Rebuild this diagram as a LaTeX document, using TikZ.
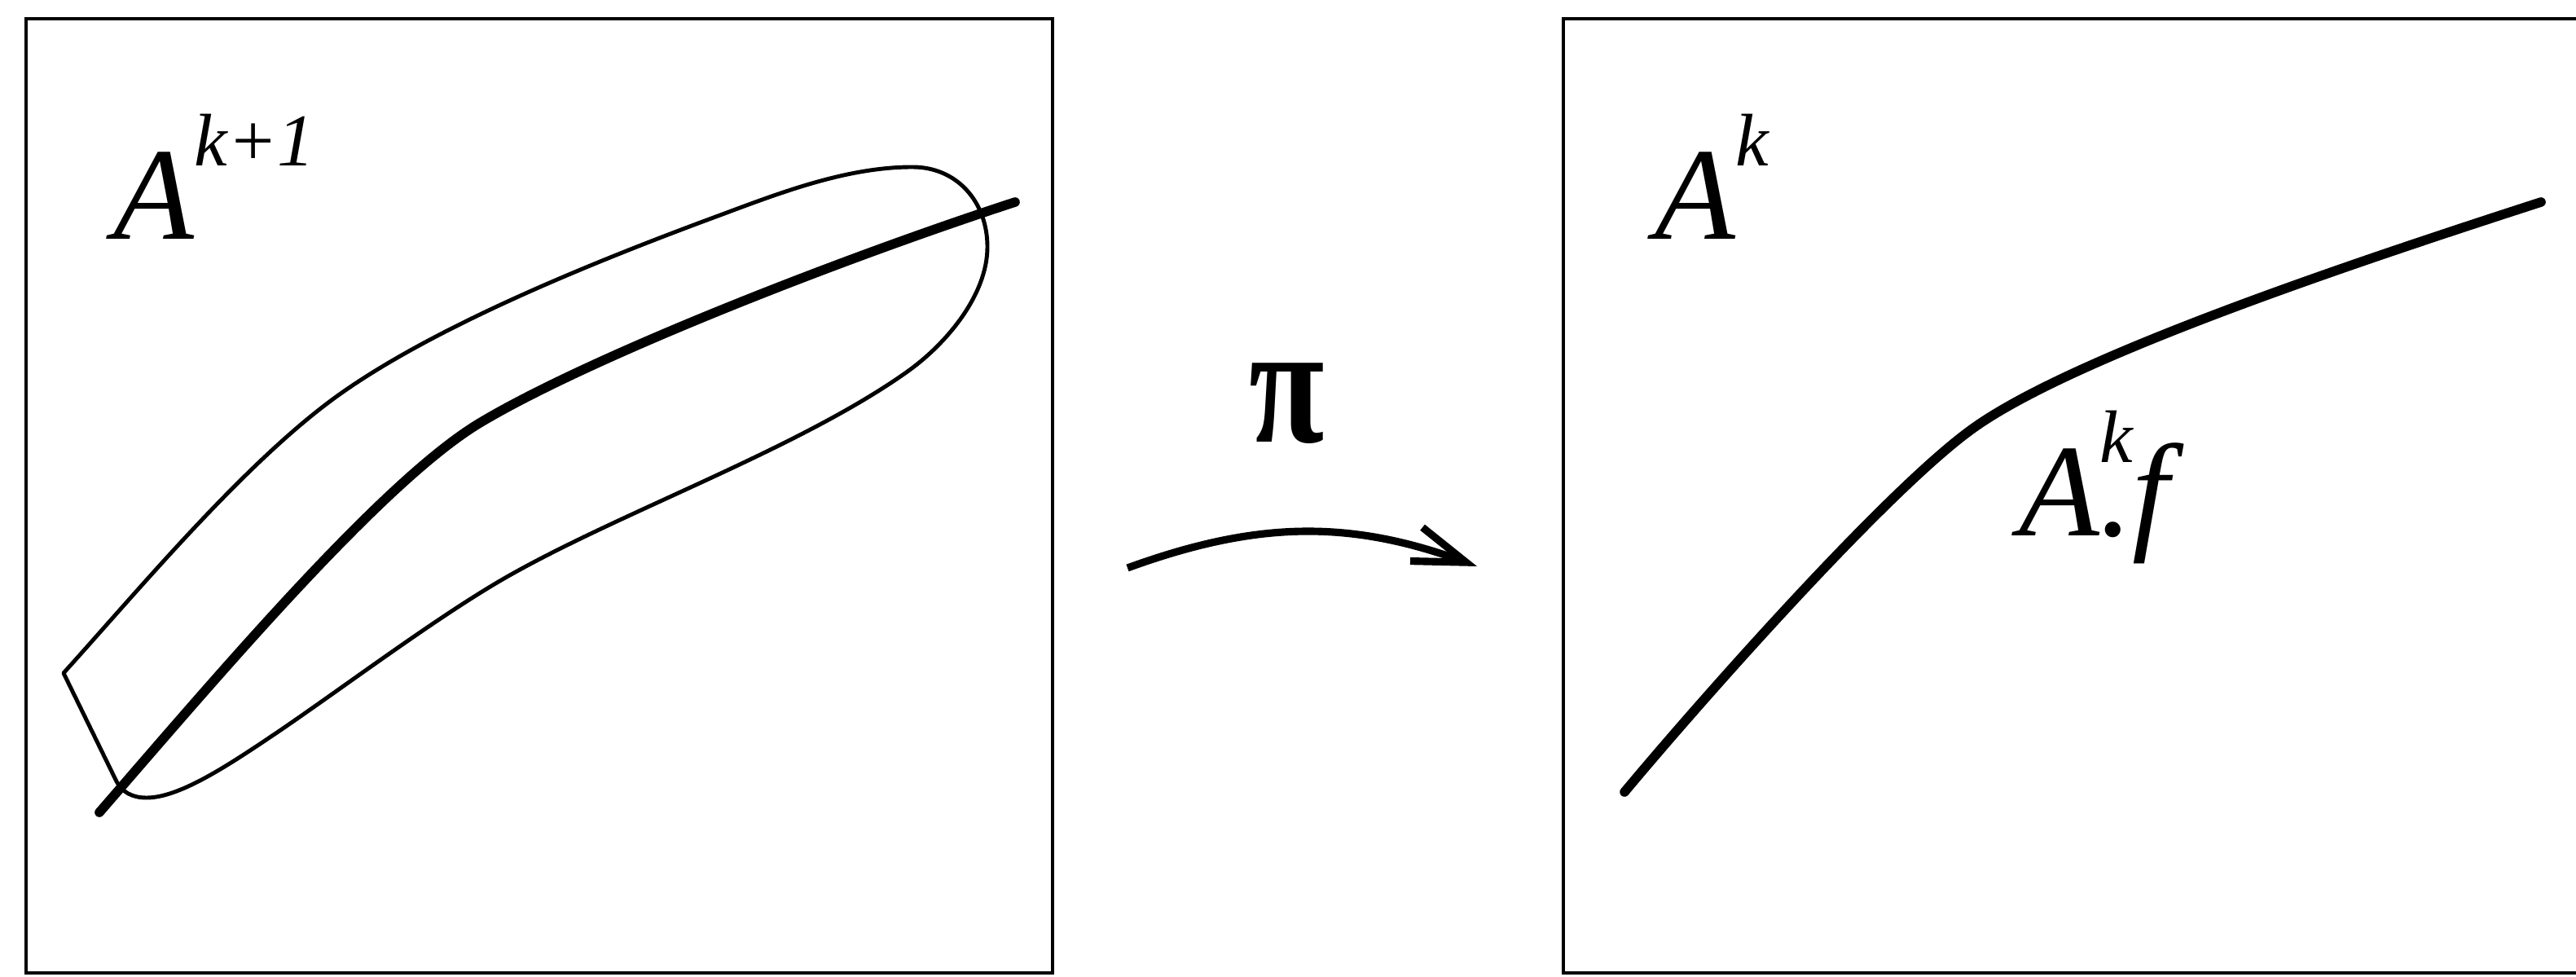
\documentclass[tikz,border=0pt]{standalone}
\usepackage{fontspec}
\setmainfont{Liberation Serif}
\usetikzlibrary{arrows.meta}

\newcommand{\upidx}[1]{\raisebox{0.9cm}{\fontsize{26}{26}\selectfont #1}}

\begin{document}
\begin{tikzpicture}[
  frame/.style={line width=1.4pt},
  fibre/.style={line width=3.3pt,line cap=round,line join=round},
  nbhd/.style={line width=1.4pt,line join=round},
  lab/.style={inner sep=0pt,anchor=base west,font=\fontsize{46}{50}\selectfont\itshape}
]
\clip (0,0) rectangle (31.62,11.98);

% left panel
\draw[frame] (0.32,0.04) rectangle (12.92,11.75);
\node[lab] (akone) at (1.39,9.04) {A\upidx{k+1}};
\draw[nbhd] (0.78,3.72) .. controls (1.72,4.76) and (3.06,6.37) .. (4.21,7.17)
  .. controls (5.44,8.03) and (7.43,8.82) .. (8.84,9.34)
  .. controls (9.59,9.62) and (10.40,9.93) .. (11.20,9.93)
  .. controls (11.75,9.93) and (12.12,9.50) .. (12.12,8.95)
  .. controls (12.12,8.35) and (11.60,7.74) .. (11.11,7.40)
  .. controls (9.80,6.48) and (7.71,5.73) .. (6.31,4.95)
  .. controls (5.44,4.47) and (4.20,3.53) .. (3.37,2.97)
  .. controls (2.79,2.58) and (2.20,2.19) .. (1.80,2.19)
  .. controls (1.62,2.19) and (1.50,2.26) .. (1.43,2.39) -- cycle;
\draw[fibre] (1.22,2.01) .. controls (2.66,3.67) and (4.69,6.07) .. (5.89,6.79)
  .. controls (7.26,7.61) and (10.37,8.82) .. (12.46,9.50);

% the map
\node[inner sep=0pt,anchor=base] (pi) at (15.80,6.55) {\scalebox{0.8}[1]{\fontsize{60}{60}\selectfont\bfseries π}};
\coordinate (mapfrom) at (13.84,5.01);
\coordinate (mapto) at (18.13,5.03);
\draw[line width=2.6pt,-{Straight Barb[length=6.5mm,width=4.4mm]}] (mapfrom) to[out=20,in=160] (mapto);

% right panel
\draw[frame] (19.19,0.04) rectangle (31.90,11.75);
\node[lab] (ak) at (20.31,9.04) {A\upidx{k}};
\node[lab] (akf) at (24.78,5.40) {A\rlap{\upidx{k}}.f};
\draw[fibre] (19.94,2.26) .. controls (20.90,3.41) and (23.15,5.95) .. (24.20,6.71)
  .. controls (25.41,7.59) and (28.81,8.73) .. (31.19,9.50);
\end{tikzpicture}
\end{document}
